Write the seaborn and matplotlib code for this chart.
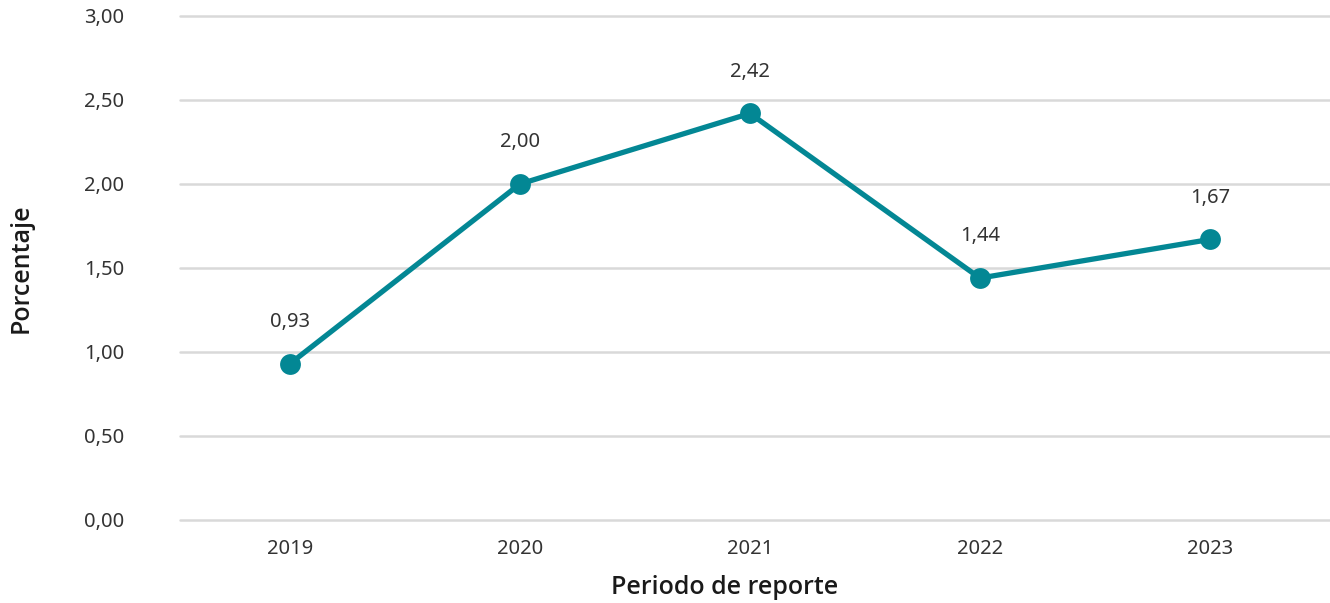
import matplotlib
matplotlib.use("Agg")
import matplotlib.pyplot as plt
import seaborn as sns
import pandas as pd

periodos = ["2019", "2020", "2021", "2022", "2023"]
porcentajes = [0.93, 2.00, 2.42, 1.44, 1.67]
y_ticks = [0.0, 0.5, 1.0, 1.5, 2.0, 2.5, 3.0]

sns.set_theme(style="white")
plt.rcParams["font.family"] = ["Noto Sans", "DejaVu Sans"]

LINE_COLOR = "#038794"
TEXT_COLOR = "#333333"
GRID_COLOR = "#d9d9d9"
TITLE_FONT = ["Open Sans", "DejaVu Sans"]

df = pd.DataFrame({"periodo": periodos, "valor": porcentajes})

fig = plt.figure(figsize=(13.3, 6.03), dpi=100)
ax = fig.add_axes([180 / 1330, 83 / 603, 1150 / 1330, 504 / 603])

ax.set_ylim(0, 3.0)
ax.set_xlim(-0.478, 4.522)
ax.set_yticks(y_ticks)
ax.set_yticklabels([f"{v:.2f}".replace(".", ",") for v in y_ticks])
for v in y_ticks:
    ax.axhline(v, color=GRID_COLOR, linewidth=1.8, zorder=0, clip_on=False)

sns.lineplot(data=df, x="periodo", y="valor", ax=ax, color=LINE_COLOR,
             linewidth=3.8, marker="o", markersize=15, markeredgewidth=0,
             zorder=3)

for i, v in enumerate(porcentajes):
    ax.annotate(f"{v:.2f}".replace(".", ","), (i, v), xytext=(0, 30),
                textcoords="offset points", ha="center", va="center",
                fontsize=14.5, color=TEXT_COLOR)

for s in ax.spines.values():
    s.set_visible(False)
ax.tick_params(axis="both", length=0, labelsize=14.5, labelcolor=TEXT_COLOR)
ax.tick_params(axis="y", pad=40)
ax.tick_params(axis="x", pad=14)
for lbl in ax.get_yticklabels():
    lbl.set_horizontalalignment("right")

ax.set_xlabel("Periodo de reporte", fontsize=18, fontweight="semibold",
              family=TITLE_FONT, color="#1a1a1a")
ax.set_ylabel("Porcentaje", fontsize=18, fontweight="semibold",
              family=TITLE_FONT, color="#1a1a1a")
ax.xaxis.set_label_coords(545 / 1150, -68 / 504)
ax.yaxis.set_label_coords(-159 / 1150, 0.5)
ax.xaxis.label.set_verticalalignment("center")
ax.yaxis.label.set_verticalalignment("center")

fig.savefig("out.png", dpi=100, facecolor="white")
